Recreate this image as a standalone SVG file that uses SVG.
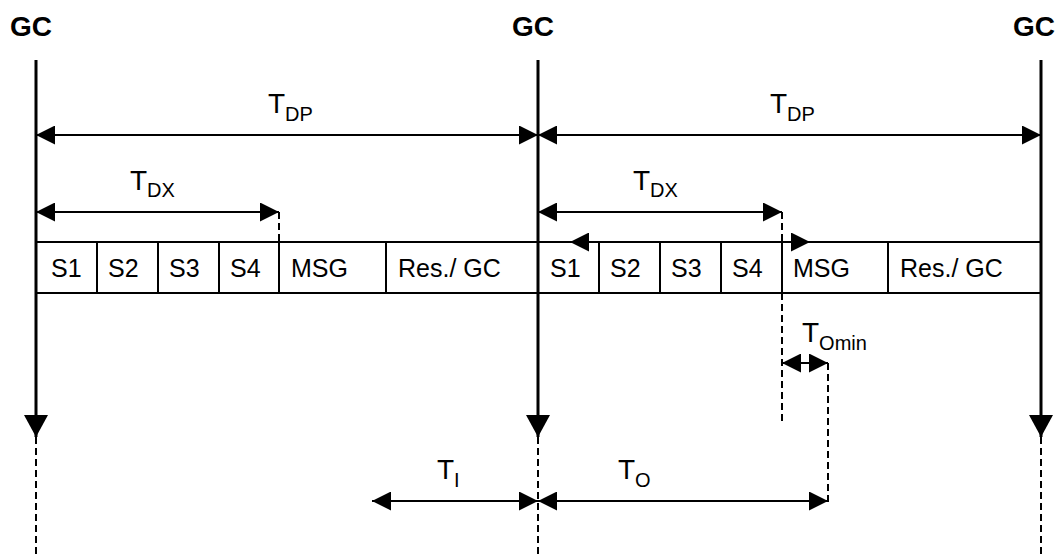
<svg xmlns="http://www.w3.org/2000/svg" width="1057" height="558" viewBox="0 0 1057 558">
<style>
.gc{font-family:"Liberation Sans",Arial,sans-serif;font-weight:bold;font-size:28px;fill:#000}
.t{font-family:"Liberation Sans",Arial,sans-serif;font-size:28px;fill:#000}
.sub{font-size:20px}
.cell{font-family:"Liberation Sans",Arial,sans-serif;font-size:25px;fill:#000}
.time{stroke:#000;stroke-width:3;fill:none}
.arr{stroke:#000;stroke-width:2;fill:none}
.dash{stroke:#000;stroke-width:2;fill:none;stroke-dasharray:7 4}
.box{stroke:#000;stroke-width:2;fill:none}
</style>
<defs>
<marker id="ah" markerUnits="userSpaceOnUse" markerWidth="19" markerHeight="19" refX="19" refY="9.5" orient="auto-start-reverse" viewBox="0 0 19 19">
<path d="M0,0 L19,9.5 L0,19 z" fill="#000"/>
</marker>
<marker id="big" markerUnits="userSpaceOnUse" markerWidth="22" markerHeight="24" refX="22" refY="12" orient="auto" viewBox="0 0 22 24">
<path d="M0,0 L22,12 L0,24 z" fill="#000"/>
</marker>
</defs>
<rect width="1057" height="558" fill="#fff"/>
<g id="gc-left">
<text class="gc" x="10" y="36">GC</text>
<line class="time" x1="36" y1="60" x2="36" y2="437" marker-end="url(#big)"/>
<line class="dash" x1="36" y1="437" x2="36" y2="555"/>
</g>
<g id="gc-mid">
<text class="gc" x="512" y="36">GC</text>
<line class="time" x1="538" y1="60" x2="538" y2="437" marker-end="url(#big)"/>
<line class="dash" x1="538" y1="437" x2="538" y2="555"/>
</g>
<g id="gc-right">
<text class="gc" x="1013" y="36">GC</text>
<line class="time" x1="1041" y1="60" x2="1041" y2="437" marker-end="url(#big)"/>
<line class="dash" x1="1041" y1="437" x2="1041" y2="555"/>
</g>
<g id="frame1">
<line class="box" x1="36" y1="242" x2="1041" y2="242"/>
<line class="box" x1="36" y1="293" x2="1041" y2="293"/>
<line class="box" x1="97" y1="242" x2="97" y2="293"/>
<line class="box" x1="158" y1="242" x2="158" y2="293"/>
<line class="box" x1="219" y1="242" x2="219" y2="293"/>
<line class="box" x1="279" y1="242" x2="279" y2="293"/>
<line class="box" x1="386" y1="242" x2="386" y2="293"/>
<text class="cell" x="51" y="277">S1</text>
<text class="cell" x="108" y="277">S2</text>
<text class="cell" x="169" y="277">S3</text>
<text class="cell" x="230" y="277">S4</text>
<text class="cell" x="291" y="277">MSG</text>
<text class="cell" x="398" y="277">Res./ GC</text>
</g>
<g id="frame2">
<line class="box" x1="599" y1="242" x2="599" y2="293"/>
<line class="box" x1="660" y1="242" x2="660" y2="293"/>
<line class="box" x1="721" y1="242" x2="721" y2="293"/>
<line class="box" x1="782" y1="242" x2="782" y2="293"/>
<line class="box" x1="888" y1="242" x2="888" y2="293"/>
<text class="cell" x="550" y="277">S1</text>
<text class="cell" x="610" y="277">S2</text>
<text class="cell" x="671" y="277">S3</text>
<text class="cell" x="732" y="277">S4</text>
<text class="cell" x="793" y="277">MSG</text>
<text class="cell" x="900" y="277">Res./ GC</text>
</g>
<g id="connectors">
<line class="arr" x1="36" y1="135" x2="538" y2="135" marker-start="url(#ah)" marker-end="url(#ah)"/>
<line class="arr" x1="538" y1="135" x2="1041" y2="135" marker-start="url(#ah)" marker-end="url(#ah)"/>
<line class="arr" x1="36" y1="212" x2="279" y2="212" marker-start="url(#ah)" marker-end="url(#ah)"/>
<line class="arr" x1="538" y1="212" x2="782" y2="212" marker-start="url(#ah)" marker-end="url(#ah)"/>
<line class="arr" x1="570" y1="242" x2="810" y2="242" marker-start="url(#ah)" marker-end="url(#ah)"/>
<line class="dash" x1="279" y1="212" x2="279" y2="242"/>
<line class="dash" x1="782" y1="212" x2="782" y2="242"/>
<line class="dash" x1="782" y1="293" x2="782" y2="425"/>
<line class="arr" x1="782" y1="363" x2="828" y2="363" marker-start="url(#ah)" marker-end="url(#ah)"/>
<line class="dash" x1="828" y1="363" x2="828" y2="502"/>
<line class="arr" x1="372" y1="501" x2="538" y2="501" marker-start="url(#ah)" marker-end="url(#ah)"/>
<line class="arr" x1="538" y1="501" x2="828" y2="501" marker-start="url(#ah)" marker-end="url(#ah)"/>
</g>
<g id="labels">
<text class="t" x="268" y="113">T<tspan class="sub" dy="8">DP</tspan></text>
<text class="t" x="770" y="113">T<tspan class="sub" dy="8">DP</tspan></text>
<text class="t" x="130" y="190">T<tspan class="sub" dy="7">DX</tspan></text>
<text class="t" x="633" y="190">T<tspan class="sub" dy="7">DX</tspan></text>
<text class="t" x="802" y="342">T<tspan class="sub" dy="8">Omin</tspan></text>
<text class="t" x="437" y="479">T<tspan class="sub" dy="8">I</tspan></text>
<text class="t" x="618" y="479">T<tspan class="sub" dy="8">O</tspan></text>
</g>
</svg>
